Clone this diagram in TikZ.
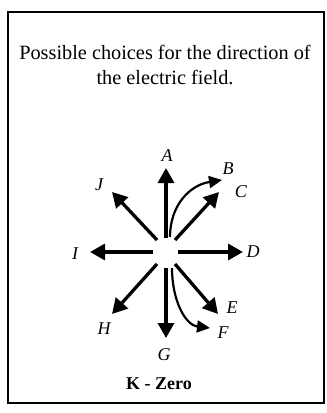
\documentclass[tikz,border=0pt]{standalone}
\usepackage{fontspec}
\setmainfont{Liberation Serif}
\usetikzlibrary{arrows.meta}
\begin{document}
\begin{tikzpicture}[x=1pt,y=-1pt,
  vec/.style={line width=3.3pt,-{Triangle[length=15pt,width=16pt]}},
  cvec/.style={line width=2.2pt,-{Triangle[length=13pt,width=12pt]}},
  lab/.style={font=\itshape\fontsize{18}{18}\selectfont,inner sep=0pt}]
\useasboundingbox (0,0) rectangle (327,413);
\draw[line width=1.8pt] (8,12) rectangle (324,403);
\node[align=center,font=\fontsize{20.3}{25}\selectfont] (title) at (165,65)
  {Possible choices for the direction of\\the electric field.};
% start and tip points
\coordinate (As) at (166,238); \coordinate (At) at (166,168);
\coordinate (Js) at (157,240); \coordinate (Jt) at (112,192);
\coordinate (Cs) at (175,240); \coordinate (Ct) at (219,192);
\coordinate (Bs) at (170,237); \coordinate (Bt) at (222,180);
\coordinate (Is) at (153,252); \coordinate (It) at (90,252);
\coordinate (Ds) at (178,252); \coordinate (Dt) at (243,252);
\coordinate (Hs) at (157,264); \coordinate (Ht) at (112,314);
\coordinate (Gs) at (166,268); \coordinate (Gt) at (166,338);
\coordinate (Es) at (175,264); \coordinate (Et) at (218,314);
\coordinate (Fs) at (172,268); \coordinate (Ft) at (210,328);
\draw[vec] (As) -- (At);
\draw[vec] (Js) -- (Jt);
\draw[vec] (Cs) -- (Ct);
\draw[cvec] (Bs) .. controls (170,205) and (190,185) .. (Bt);
\draw[vec] (Is) -- (It);
\draw[vec] (Ds) -- (Dt);
\draw[vec] (Hs) -- (Ht);
\draw[vec] (Gs) -- (Gt);
\draw[vec] (Es) -- (Et);
\draw[cvec] (Fs) .. controls (172,300) and (185,325) .. (Ft);
% labels
\node[lab] (lA) at (167,156) {A};
\node[lab] (lB) at (228,169) {B};
\node[lab] (lC) at (241,192) {C};
\node[lab] (lD) at (253,252) {D};
\node[lab] (lE) at (232,308) {E};
\node[lab] (lF) at (223,333) {F};
\node[lab] (lG) at (164,355) {G};
\node[lab] (lH) at (104,329) {H};
\node[lab] (lI) at (75,254) {I};
\node[lab] (lJ) at (99,185) {J};
\node[font=\bfseries\fontsize{18}{18}\selectfont,inner sep=0pt] (K) at (159,384) {K - Zero};
\end{tikzpicture}
\end{document}
